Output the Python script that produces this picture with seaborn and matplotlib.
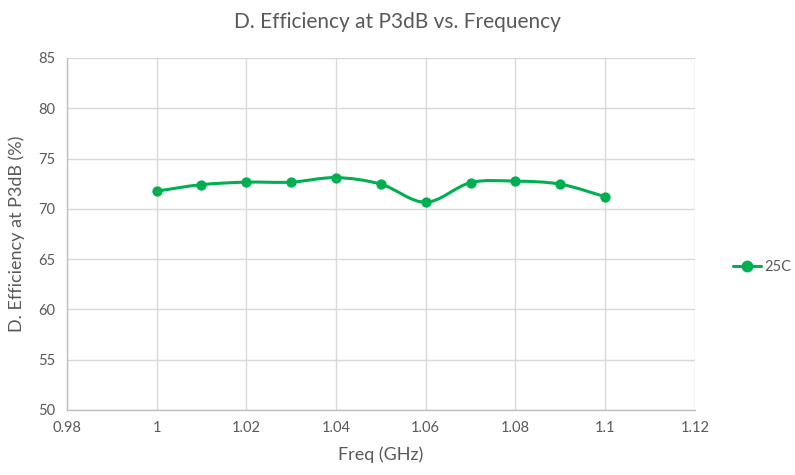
import matplotlib
matplotlib.use("Agg")
import matplotlib.pyplot as plt
from matplotlib.path import Path
from matplotlib.patches import PathPatch
from matplotlib.lines import Line2D
import seaborn as sns
import pandas as pd

# data
freq = [1.00, 1.01, 1.02, 1.03, 1.04, 1.05, 1.06, 1.07, 1.08, 1.09, 1.10]
eff_25c = [71.75, 72.4, 72.65, 72.65, 73.1, 72.45, 70.65, 72.6, 72.75, 72.45, 71.2]
series_name = "25C"

x_ticks = [0.98, 1.00, 1.02, 1.04, 1.06, 1.08, 1.10, 1.12]
x_tick_labels = ["0.98", "1", "1.02", "1.04", "1.06", "1.08", "1.1", "1.12"]
y_ticks = [50, 55, 60, 65, 70, 75, 80, 85]

green = "#00B050"
grid_c = "#D9D9D9"
text_c = "#595959"

df = pd.DataFrame({"freq": freq, "eff": eff_25c})

sns.set_theme(style="white")
plt.rcParams["font.family"] = ["Lato", "DejaVu Sans"]

fig = plt.figure(figsize=(7.95, 4.75), dpi=100)
ax = fig.add_axes([0.084, 0.137, 0.79, 0.741])

# smoothed line (Catmull-Rom as cubic bezier, like Excel's smooth line)
pts = list(zip(freq, eff_25c))
verts = [pts[0]]
codes = [Path.MOVETO]
for i in range(len(pts) - 1):
    p0 = pts[i - 1] if i > 0 else pts[i]
    p1 = pts[i]
    p2 = pts[i + 1]
    p3 = pts[i + 2] if i + 2 < len(pts) else pts[i + 1]
    c1 = (p1[0] + (p2[0] - p0[0]) / 6, p1[1] + (p2[1] - p0[1]) / 6)
    c2 = (p2[0] - (p3[0] - p1[0]) / 6, p2[1] - (p3[1] - p1[1]) / 6)
    verts += [c1, c2, p2]
    codes += [Path.CURVE4] * 3
ax.add_patch(PathPatch(Path(verts, codes), fill=False, edgecolor=green, lw=2.2, zorder=3))

sns.scatterplot(data=df, x="freq", y="eff", color=green, s=55, edgecolor=green,
                linewidth=0, zorder=4, ax=ax, legend=False)

ax.set_xlim(0.98, 1.12)
ax.set_ylim(50, 85)
ax.set_xticks(x_ticks)
ax.set_xticklabels(x_tick_labels)
ax.set_yticks(y_ticks)
ax.grid(True, color=grid_c, lw=1)
ax.set_axisbelow(True)
for s in ["top", "right"]:
    ax.spines[s].set_visible(False)
for s in ["left", "bottom"]:
    ax.spines[s].set_color("#BFBFBF")
    ax.spines[s].set_linewidth(1)
ax.tick_params(axis="both", length=0, labelsize=10.5, colors=text_c, pad=8)

ax.set_xlabel("Freq (GHz)", fontsize=13, color=text_c, labelpad=8)
ax.set_ylabel("D. Efficiency at P3dB (%)", fontsize=13, color=text_c, labelpad=10)
fig.suptitle("D. Efficiency at P3dB vs. Frequency", fontsize=15, color=text_c, y=0.975)

handle = Line2D([], [], color=green, lw=2.2, marker="o", markersize=7.5)
fig.legend([handle], [series_name], loc="center left", bbox_to_anchor=(0.922, 0.438),
           frameon=False, fontsize=10.5, labelcolor=text_c, handlelength=1.9,
           handletextpad=0.25, borderaxespad=0, borderpad=0)

fig.savefig("out.png", dpi=100)
